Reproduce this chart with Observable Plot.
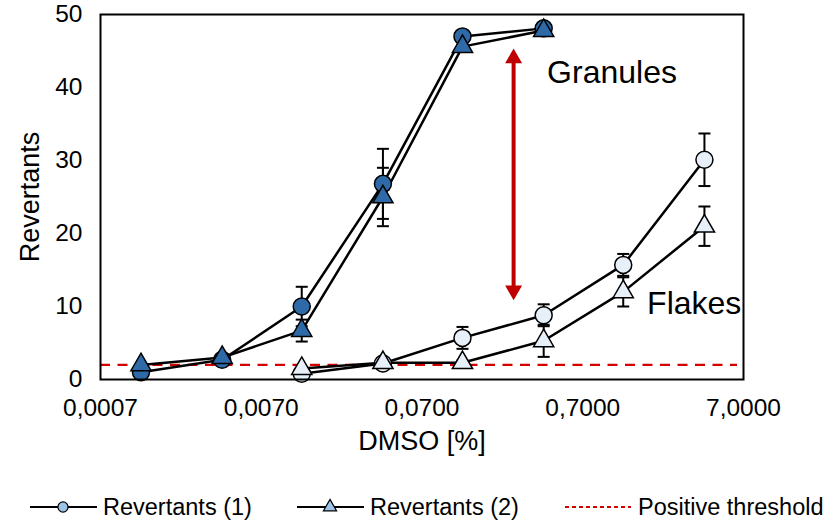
<!DOCTYPE html>
<html>
<head>
<meta charset="utf-8">
<script src="https://cdn.jsdelivr.net/npm/d3@7"></script>
<script src="https://cdn.jsdelivr.net/npm/@observablehq/plot@0.6"></script>
<style>
  html, body { margin: 0; padding: 0; background: #fff; }
  body { width: 838px; height: 521px; position: relative; overflow: hidden; font-family: "Liberation Sans", Arial, sans-serif; }
  #legend { position: absolute; left: 0; top: 490px; }
</style>
</head>
<body>
<div id="chart"></div>
<svg id="legend" width="838" height="31"></svg>
<script>
// ---- data ----
const xTicks = [0.0007, 0.007, 0.07, 0.7, 7];
const yTicks = [0, 10, 20, 30, 40, 50];
const granulesDose = [0.00125, 0.004, 0.0125, 0.04, 0.125, 0.4];
const granules1 = [1.0, 2.7, 10.0, 26.8, 47.0, 48.1];
const granules1Err = [0, 0.4, 2.7, 4.8, 0, 0];
const granules2 = [2.0, 3.0, 6.7, 25.0, 45.6, 47.8];
const granules2Err = [0, 0.5, 1.5, 4.0, 0, 0];
const flakesDose = [0.0125, 0.04, 0.125, 0.4, 1.25, 4];
const flakes1 = [0.8, 2.2, 5.7, 8.8, 15.7, 30.1];
const flakes1Err = [0, 0.3, 1.5, 1.5, 1.5, 3.6];
const flakes2 = [1.5, 2.3, 2.3, 5.3, 12.0, 21.0];
const flakes2Err = [0, 0.3, 0.3, 2.2, 2.0, 2.7];
const threshold = 2;
const seriesNames = ["Revertants (1)", "Revertants (2)", "Positive threshold"];
const annotations = [
  {label: "Granules", x: 0.42, y: 42.0},
  {label: "Flakes", x: 1.76, y: 10.4}
];
const arrowX = 0.26, arrowLow = 12.2, arrowHigh = 44.0;

// ---- build rows ----
function rows(form, rep, doses, vals, errs) {
  return doses.map((d, i) => ({form, rep, dose: d, value: vals[i], err: errs[i]}));
}
const g1 = rows("Granules", 1, granulesDose, granules1, granules1Err);
const g2 = rows("Granules", 2, granulesDose, granules2, granules2Err);
const f1 = rows("Flakes", 1, flakesDose, flakes1, flakes1Err);
const f2 = rows("Flakes", 2, flakesDose, flakes2, flakes2Err);
const all = [...g1, ...g2, ...f1, ...f2];
const withErr = all.filter(d => d.err > 0);

const blue = "#2e6aa7", light = "#e7eff9", red = "#c00000", dashRed = "#d40000";
const font = '"Liberation Sans", Arial, sans-serif';
const cap = {draw(ctx) { ctx.moveTo(-6, 0); ctx.lineTo(6, 0); }};
const fmt = v => d3.format(".4f")(v).replace(".", ",");

const chart = Plot.plot({
  width: 838, height: 460,
  marginLeft: 100, marginRight: 95, marginTop: 14, marginBottom: 81,
  style: {fontSize: "24.5px", fontFamily: font, color: "#000", background: "#fff", overflow: "visible"},
  x: {type: "log", domain: [0.0007, 7], axis: null},
  y: {domain: [0, 50], ticks: yTicks, tickSize: 0, tickPadding: 18, label: null},
  marks: [
    Plot.ruleY([threshold], {stroke: dashRed, strokeWidth: 2.3, strokeDasharray: "10,7.5", insetRight: 6}),
    Plot.line(all, {x: "dose", y: "value", z: d => d.form + d.rep, stroke: "black", strokeWidth: 2.5}),
    Plot.ruleX(withErr, {x: "dose", y1: d => d.value - d.err, y2: d => d.value + d.err, stroke: "black", strokeWidth: 2}),
    Plot.dot(withErr, {x: "dose", y: d => d.value + d.err, symbol: cap, fill: "none", stroke: "black", strokeWidth: 2}),
    Plot.dot(withErr, {x: "dose", y: d => d.value - d.err, symbol: cap, fill: "none", stroke: "black", strokeWidth: 2}),
    Plot.dot(g1, {x: "dose", y: "value", symbol: "circle", r: 8.5, fill: blue, stroke: "black", strokeWidth: 1.5}),
    Plot.dot(g2, {x: "dose", y: "value", symbol: "triangle", r: 7.5, fill: blue, stroke: "black", strokeWidth: 1.5}),
    Plot.dot(f1, {x: "dose", y: "value", symbol: "circle", r: 8.5, fill: light, stroke: "black", strokeWidth: 1.5}),
    Plot.dot(f2, {x: "dose", y: "value", symbol: "triangle", r: 7.5, fill: light, stroke: "black", strokeWidth: 1.5}),
    Plot.ruleX([arrowX], {y1: arrowLow, y2: arrowHigh, stroke: red, strokeWidth: 4}),
    Plot.dot([arrowHigh], {x: () => arrowX, y: d => d, symbol: "triangle", r: 6.3, fill: red, stroke: "none"}),
    Plot.dot([arrowLow], {x: () => arrowX, y: d => d, symbol: "triangle", r: 6.3, rotate: 180, fill: red, stroke: "none"}),
    Plot.text(annotations, {x: "x", y: "y", text: "label", textAnchor: "start", lineAnchor: "middle", fontSize: 32}),
    Plot.text(xTicks, {x: d => d, text: fmt, frameAnchor: "bottom", textAnchor: "middle", lineAnchor: "top", dy: 19, fontSize: 24.5}),
    Plot.text(["DMSO [%]"], {text: d => d, frameAnchor: "bottom", textAnchor: "middle", lineAnchor: "middle", dy: 62, fontSize: 27}),
    Plot.text(["Revertants"], {text: d => d, frameAnchor: "left", textAnchor: "middle", lineAnchor: "middle", rotate: -90, dx: -70, fontSize: 27}),
    Plot.frame({stroke: "black", strokeWidth: 2})
  ]
});
document.getElementById("chart").appendChild(chart);

// ---- legend ----
const lg = d3.select("#legend");
const items = [
  {x: 30, kind: "circle"},
  {x: 297, kind: "triangle"},
  {x: 565, kind: "dash"}
];
items.forEach((it, i) => {
  const g = lg.append("g").attr("transform", `translate(${it.x},17)`);
  if (it.kind === "dash") {
    g.append("line").attr("x1", 0).attr("x2", 66).attr("stroke", dashRed).attr("stroke-width", 2).attr("stroke-dasharray", "4,3");
  } else {
    g.append("line").attr("x1", 0).attr("x2", 67).attr("stroke", "black").attr("stroke-width", 2);
    g.append("path").attr("transform", "translate(33,0)")
      .attr("d", d3.symbol(it.kind === "circle" ? d3.symbolCircle : d3.symbolTriangle, it.kind === "circle" ? 80 : 75)())
      .attr("fill", "#9dc3e6").attr("stroke", "black").attr("stroke-width", 1.2);
  }
  g.append("text").attr("x", 73).attr("y", 0).attr("dy", "0.35em")
    .attr("font-family", font).attr("font-size", 23.5).attr("fill", "#000").text(seriesNames[i]);
});
</script>
</body>
</html>
